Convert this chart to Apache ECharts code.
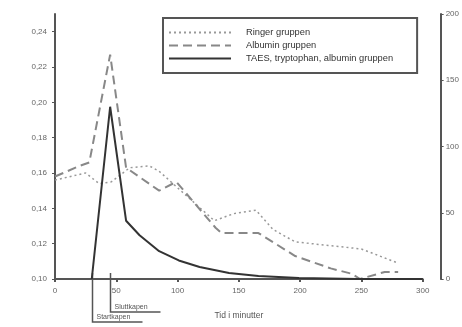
<!DOCTYPE html>
<html>
<head>
<meta charset="utf-8">
<script src="https://cdn.jsdelivr.net/npm/echarts@6/dist/echarts.min.js"></script>
<style>
  html, body { margin: 0; padding: 0; background: #fff; }
  #chart { width: 462px; height: 327px; }
</style>
</head>
<body>
<div id="chart"></div>
<script>
// values: [minutes, value]
var ringer = [
  [0, 0.156], [25, 0.160], [36, 0.154], [46, 0.155], [61, 0.163], [77, 0.164],
  [85, 0.161], [101, 0.151], [130, 0.133], [146, 0.137], [164, 0.139],
  [178, 0.128], [196, 0.121], [223, 0.119], [250, 0.117], [280, 0.109]
];
var albumin = [
  [0, 0.158], [20, 0.164], [28, 0.166], [45, 0.227], [58, 0.163], [85, 0.150],
  [99, 0.155], [131, 0.129], [136, 0.126], [166, 0.126], [196, 0.113],
  [225, 0.106], [242, 0.103], [249, 0.100], [269, 0.104], [280, 0.104]
];
var taes = [
  [30, 0], [45, 130], [58, 44], [69, 33], [85, 21], [101, 14], [118, 9],
  [142, 4.5], [166, 2.3], [199, 0.8], [247, 0], [300, 0]
];
var seriesNames = ["Ringer gruppen", "Albumin gruppen", "TAES, tryptophan, albumin gruppen"];
var marks = [
  { t: 30, label: "Startkapen", drop: 43 },
  { t: 45, label: "Sluttkapen", drop: 33 }
];

var axisColor = "#555";
var labelStyle = { color: "#666", fontSize: 8, fontFamily: "Liberation Sans" };

var chart = echarts.init(document.getElementById("chart"));
chart.setOption({
  animation: false,
  backgroundColor: "#fff",
  grid: { left: 55, right: 37, top: 14, bottom: 48 },
  legend: {
    left: 163,
    top: 18,
    orient: "vertical",
    itemWidth: 62,
    itemHeight: 10,
    itemGap: 4,
    padding: [10, 24, 10, 5],
    borderColor: "#555",
    borderWidth: 2,
    borderRadius: 0,
    itemStyle: { opacity: 0 },
    textStyle: { color: "#333", fontSize: 9.3, fontFamily: "Liberation Sans", padding: [0, 0, 0, 10] },
    data: seriesNames
  },
  xAxis: {
    type: "value",
    min: 0,
    max: 300,
    interval: 50,
    name: "Tid i minutter",
    nameLocation: "middle",
    nameGap: 32,
    nameTextStyle: { color: "#555", fontSize: 8.5, fontFamily: "Liberation Sans" },
    axisLine: { lineStyle: { color: axisColor, width: 2 } },
    axisTick: { show: true, length: 3, lineStyle: { color: axisColor, width: 2 } },
    axisLabel: Object.assign({ margin: 8 }, labelStyle),
    splitLine: { show: false }
  },
  yAxis: [
    {
      type: "value",
      min: 0.1,
      max: 0.25,
      interval: 0.02,
      axisLine: { show: true, lineStyle: { color: axisColor, width: 2 } },
      axisTick: { show: true, length: 3, lineStyle: { color: axisColor } },
      axisLabel: Object.assign({
        margin: 8,
        showMaxLabel: false,
        formatter: function (v) { return v.toFixed(2).replace(".", ","); }
      }, labelStyle),
      splitLine: { show: false }
    },
    {
      type: "value",
      position: "right",
      offset: 18,
      min: 0,
      max: 200,
      interval: 50,
      axisLine: { show: true, lineStyle: { color: axisColor, width: 2 } },
      axisTick: { show: true, length: 3, lineStyle: { color: axisColor } },
      axisLabel: Object.assign({ margin: 5 }, labelStyle),
      splitLine: { show: false }
    }
  ],
  series: [
    {
      name: seriesNames[0],
      type: "line",
      yAxisIndex: 0,
      symbol: "none",
      data: ringer,
      lineStyle: { color: "#999", width: 1.5, type: [2, 3] },
      itemStyle: { color: "#999" }
    },
    {
      name: seriesNames[1],
      type: "line",
      yAxisIndex: 0,
      symbol: "none",
      data: albumin,
      lineStyle: { color: "#888", width: 2, type: [9, 5] },
      itemStyle: { color: "#888" }
    },
    {
      name: seriesNames[2],
      type: "line",
      yAxisIndex: 1,
      symbol: "none",
      data: taes,
      lineStyle: { color: "#333", width: 2 },
      itemStyle: { color: "#333" }
    }
  ]
});

// annotation brackets under the x axis, placed through the axis scale
var graphics = [];
marks.forEach(function (m) {
  var p = chart.convertToPixel({ xAxisIndex: 0, yAxisIndex: 1 }, [m.t, 0]);
  var x = Math.round(p[0]) + 0.5;
  var y0 = p[1] - 6;
  var y1 = p[1] + m.drop;
  graphics.push({
    type: "polyline",
    shape: { points: [[x, y0], [x, y1], [x + 50, y1]] },
    style: { stroke: "#555", lineWidth: 1.5, fill: null }
  });
  graphics.push({
    type: "text",
    x: x + 4,
    y: y1 - 1,
    style: { text: m.label, fill: "#555", fontSize: 7, fontFamily: "Liberation Sans", verticalAlign: "bottom" }
  });
});
chart.setOption({ graphic: graphics });
</script>
</body>
</html>
